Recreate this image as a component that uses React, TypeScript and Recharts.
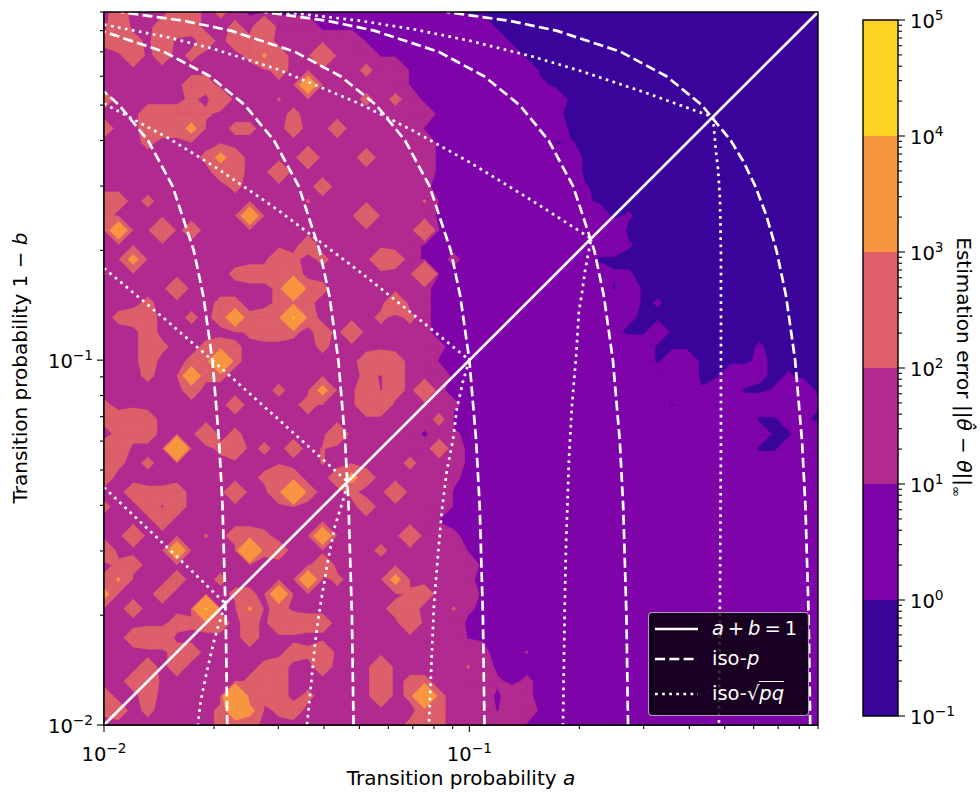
import React from 'react';
import { ComposedChart, BarChart, Bar, Line, Scatter, XAxis, YAxis, CartesianGrid, ReferenceArea, Legend, Label } from 'recharts';

const FONT = '"DejaVu Sans", sans-serif';

// one character per grid node, top row first, left to right (50 x 50, log spaced)
const errorRows = [
    '-b---bb-a- vvvvvvvvvv vvvvv..... .......... ..........',
    '-c--bcb--a -c---vvvvv vvvvvvv... .......... ..........',
    'acb-c--b-b ab------wv vvvvvvvv.. .......... ..........',
    '--c-b-a--- aeb--d---w wvvvvvvvv. .......... ..........',
    '---------- --b-----a- -wvvvvvvvv .......... ..........',
    '------bb-- ----B----- -wvvvvvvvv u......... ..........',
    'b-----a-c- --t-----a- a-vvvvvvvv vv........ ..........',
    '---bbbba-- ---a------ ---vvvvvvv vu........ ..........',
    'b--bbbA--a a--b--b--- --wvvvvvvv vv........ ..........',
    '---a------ ---------- ---vvvvvvv vok....... ..........',
    '-------aAb ----c---b- ---vvvvvvv vvv....... ..........',
    '--------bb --c------- ---vvvvvvv vvv....... ..........',
    '---------a -----b---- --mvvvvvvv vvvk...... ..........',
    'bb-a------ ----t----- --tvvvvvvv vvvu...... ..........',
    'b--------- B-------d- ---vvvvvvv vvvvv.k... ..........',
    '-B--d-b--- ---------- --cvvvvvvv vvvvvv.... ..........',
    '---------- ----b----- --vvvvvvvv vvvvvvk... ..........',
    '--A------- --ca-a---c b-vvmvvvvv vvvv...... ..........',
    't--------a bbcb------ --dvvvvvvv vvvvvkk... ..........',
    '-----c---- --aCba---- --mvvvvvvv vvvvvov... ..........',
    '---a----aa --aba----- c-mvvvvvvv vvvvvvv.k. ..........',
    '-abb--a-bB abbYb----a -amvvvvvvv vvvvvvu... ..........',
    '---b------ abba-b-c-- --mvvvvvvv vvvvvu..v. ..........',
    '---ba--aba -----a---- ---mvvvvvv vvvvvvvv.. .....k....',
    '---b--abCa --------bc b--wvvvvvv vvvvvvvv.v v....u....',
    '---a--Baa- --------an b---vvvvvv vvvvvvvvvv v..vvu.k..',
    '------b--- --a--A--cn b-cmvvvvvv vvvvvvvvvv vkvv..kvv.',
    'a--------b ----b---cc ----mvvvvv vvvvvvvvvo vvovvvvvvk',
    'abcb------ ---------- ---avvvvvv vvvvvvvvvv vvvvv..vu.',
    '-abb---c-a ------c--- --v-mvvvvv vvvvvvvvvv vvvvvv..vv',
    'bc---C--ac -a-b-t---- ---b-vvvvv vvvvvvvvvv vvvvv..vvo',
    'ca-a------ -----t---- -a---vvvvv vvvvvvvvvv vvvvvvvvvv',
    'b--------- -adb--bAb- ----mvvvvv vvvvvvvvvv vvvvvvvvvv',
    '--baab---c --cCb--a-- c---wvvvvv vvvvvvvvvv vvvvvvvvvv',
    'a--bnb---- --------b- ----wvvvvv vvvvvvvvvv vvvvvvvvvv',
    '----b----- ---------- ---wvvvvvv vvvvvvvvvv vvvvvvvvvv',
    '--c----t-b ba---B---- -c--mvvvvv vvvvvvvvvv vvvvvvvvvv',
    'c----B---- Cab------a -----wvvvv vvvvvvvvvv vvvvvvvvvv',
    '-ab------- -----c---- ------vvvv vvvvvvvvvv vvvvvvvvvv',
    'ae---b--a- ----B-a--- A----mvvvv vvvvvvvvvv vvvvvvvvvv',
    'A---b----a a-B------- -ab---vvvv vvvvvvvvvv vvvvvvvvvv',
    '--b----Y-- e-b------- bb--tmvvvv vvvvvvvvvv vvvvvvvvvv',
    '-----babb- b-ccbb---- -c---vvvvv vvvvvvvvvv vvvvvvvvvv',
    '--bcc----- b--------- -----wwvvv vvvvvvvvvv vvvvvvvvvv',
    '-----bb--- ---bac---- ------mvvl vvvvvvvvvv vvvvvvvvvv',
    '---b-b---- -ab--b---c -----t-vvv vvvvvvvvvv vvvvvvvvvv',
    '--bc------ abb------c -aa---wmvm vvvvvvvvvv vvvvvvvvvv',
    'b--b-----C bbb-a----c -aCa---v-m vvvvvvvvvv vvvvvvvvvv',
    'ab-a----aB A-ab------ --ba---w-- vvvvvvvvvv vvvvvvvvvv',
    '--------ab b--------- -aba-----w vvvvvvvvvv vlvvvvvvvv',
];

// estimation error at a node for each character above
const errorValues: Record<string, number> = {
    '.': 0.5, o: 0.7, k: 1.2, u: 1.5, v: 3, w: 8, l: 11, m: 15, '-': 30, n: 85,
    t: 110, a: 150, b: 220, c: 350, d: 800, e: 1150, A: 1500, B: 2500, C: 6000, Y: 10500,
};

const bandThresholds = [1, 10, 100, 1000, 10000];
const bandColors = ['#3a049a', '#7e03a8', '#b12a90', '#dc5f69', '#f89540', '#fad325'];
const colorbarExponents = [-1, 0, 1, 2, 3, 4, 5];

const diagonal = [[0.01, 0.01], [0.9, 0.9]];

const isoP1 = [[0.02175, 0.01], [0.02153, 0.02], [0.0211, 0.04], [0.02065, 0.06], [0.0198, 0.1], [0.0187, 0.15], [0.0176, 0.2], [0.0154, 0.3], [0.0132, 0.4], [0.011, 0.5], [0.01, 0.545]];
const isoP2 = [[0.0482, 0.01], [0.0477, 0.02], [0.0467, 0.04], [0.0457, 0.06], [0.0438, 0.1], [0.0414, 0.15], [0.0389, 0.2], [0.0341, 0.3], [0.0292, 0.4], [0.0243, 0.5], [0.0195, 0.6], [0.0146, 0.7], [0.01, 0.795]];
const isoP3 = [[0.11, 0.01], [0.1089, 0.02], [0.1067, 0.04], [0.1044, 0.06], [0.1, 0.1], [0.0944, 0.15], [0.0889, 0.2], [0.0778, 0.3], [0.0667, 0.4], [0.0556, 0.5], [0.0444, 0.6], [0.0333, 0.7], [0.0222, 0.8], [0.0167, 0.85], [0.0111, 0.9]];
const isoP4 = [[0.2718, 0.01], [0.2691, 0.02], [0.2636, 0.04], [0.2581, 0.06], [0.2471, 0.1], [0.2334, 0.15], [0.2197, 0.2], [0.1922, 0.3], [0.1648, 0.4], [0.1373, 0.5], [0.1098, 0.6], [0.0824, 0.7], [0.0549, 0.8], [0.0412, 0.85], [0.0275, 0.9]];
const isoP5 = [[0.857, 0.01], [0.8484, 0.02], [0.8311, 0.04], [0.8138, 0.06], [0.7791, 0.1], [0.7358, 0.15], [0.6926, 0.2], [0.6493, 0.25], [0.606, 0.3], [0.5627, 0.35], [0.5194, 0.4], [0.4329, 0.5], [0.3463, 0.6], [0.2597, 0.7], [0.1731, 0.8], [0.1299, 0.85], [0.0866, 0.9]];

const isoPq1 = [[0.01, 0.0448], [0.012, 0.03767], [0.014, 0.03253], [0.017, 0.02702], [0.0215, 0.0215], [0.02077, 0.01928], [0.02038, 0.01821], [0.01987, 0.01656], [0.0195, 0.01526], [0.01914, 0.01406], [0.01866, 0.01247], [0.01831, 0.01127], [0.01808, 0.01]];
const isoPq2 = [[0.01, 0.1787], [0.015, 0.1272], [0.02, 0.099], [0.03, 0.0689], [0.0464, 0.0464], [0.04538, 0.04214], [0.04425, 0.03882], [0.04287, 0.0351], [0.04154, 0.03016], [0.04076, 0.02726], [0.03949, 0.02256], [0.03851, 0.01927], [0.03779, 0.01656], [0.03685, 0.01287], [0.03617, 0.01065], [0.03594, 0.01]];
const isoPq3 = [[0.01, 0.505], [0.015, 0.406], [0.02, 0.34], [0.03, 0.2575], [0.05, 0.175], [0.07, 0.1338], [0.1, 0.1], [0.0961, 0.0876], [0.0925, 0.0739], [0.0902, 0.0604], [0.0868, 0.0499], [0.0841, 0.0388], [0.082, 0.029], [0.08, 0.0213], [0.0785, 0.0137], [0.0775, 0.01]];
const isoPq4 = [[0.01, 0.831], [0.015, 0.767], [0.02, 0.7125], [0.03, 0.626], [0.05, 0.505], [0.07, 0.426], [0.1, 0.349], [0.15, 0.272], [0.2154, 0.2154], [0.2072, 0.1753], [0.2033, 0.1526], [0.1995, 0.1362], [0.1958, 0.1013], [0.1909, 0.0753], [0.1874, 0.0539], [0.1838, 0.0305], [0.1826, 0.0226], [0.1804, 0.01]];
const isoPq5 = [[0.0265, 0.914], [0.03, 0.904], [0.05, 0.852], [0.07, 0.808], [0.1, 0.751], [0.15, 0.678], [0.2, 0.622], [0.3, 0.543], [0.4642, 0.464], [0.473, 0.3738], [0.4792, 0.3357], [0.4851, 0.2779], [0.4882, 0.1964], [0.4882, 0.0876], [0.4882, 0.0574], [0.4851, 0.0219], [0.4821, 0.01]];

const axisTicks = [0.01, 0.02, 0.03, 0.04, 0.05, 0.06, 0.07, 0.08, 0.09, 0.1, 0.2, 0.3, 0.4, 0.5, 0.6, 0.7, 0.8, 0.9];
const majorTicks: Record<number, string> = { 0.01: '\u22122', 0.1: '\u22121' };

const AXIS_MIN = 0.01;
const AXIS_MAX = 0.9;
const PLOT_W = 714;
const PLOT_H = 713;
const TICK_FONT = 19.5;
const SUP_FONT = 13.7;
const LABEL_FONT = 20;

const grid = errorRows.map((row) => row.replace(/ /g, '').split('').map((c) => errorValues[c]));
const rowCount = grid.length;
const colCount = grid[0].length;
const CELL_W = PLOT_W / (colCount - 1);
const CELL_H = PLOT_H / (rowCount - 1);

const gridPos = (t: number) => AXIS_MIN * Math.pow(AXIS_MAX / AXIS_MIN, t);
const toPoints = (pairs: number[][]) => pairs.map(([x, y]) => ({ x, y }));

// cells that have at least one corner inside the band, anchored at their top left node
const cellsForThreshold = (level: number) => {
    const cells: any[] = [];
    for (let j = 0; j < rowCount - 1; j++) {
        for (let i = 0; i < colCount - 1; i++) {
            const corners = [grid[j][i], grid[j][i + 1], grid[j + 1][i + 1], grid[j + 1][i]];
            if (corners.some((v) => v >= level)) {
                cells.push({ x: gridPos(i / (colCount - 1)), y: gridPos(1 - j / (rowCount - 1)), corners });
            }
        }
    }
    return cells;
};

const CELL_OFFSETS = [[0, 0], [CELL_W, 0], [CELL_W, CELL_H], [0, CELL_H]];

// linear crossing of the level on the edge from corner k to corner n
const edgePoint = (cx: number, cy: number, corners: number[], k: number, n: number, level: number) => {
    const f = (level - corners[k]) / (corners[n] - corners[k]);
    const px = cx + CELL_OFFSETS[k][0] + f * (CELL_OFFSETS[n][0] - CELL_OFFSETS[k][0]);
    const py = cy + CELL_OFFSETS[k][1] + f * (CELL_OFFSETS[n][1] - CELL_OFFSETS[k][1]);
    return `${px},${py}`;
};

const ContourCell = ({ cx, cy, payload, level, color }: any) => {
    const corners: number[] = payload.corners;
    const inside = corners.map((v) => v >= level);
    const corner = (k: number) => `${cx + CELL_OFFSETS[k][0]},${cy + CELL_OFFSETS[k][1]}`;

    if (inside.every(Boolean)) {
        return <rect x={cx} y={cy} width={CELL_W + 0.5} height={CELL_H + 0.5} fill={color} shapeRendering="crispEdges" />;
    }

    const isSaddle = inside[0] === inside[2] && inside[1] === inside[3] && inside[0] !== inside[1];
    const center = (corners[0] + corners[1] + corners[2] + corners[3]) / 4;
    const polys: string[][] = [];
    if (isSaddle && center < level) {
        // two separate corners, the middle of the cell stays out of the band
        [0, 1, 2, 3].filter((k) => inside[k]).forEach((k) => {
            const prev = (k + 3) % 4;
            const next = (k + 1) % 4;
            polys.push([corner(k), edgePoint(cx, cy, corners, k, next, level), edgePoint(cx, cy, corners, k, prev, level)]);
        });
    } else {
        const pts: string[] = [];
        for (let k = 0; k < 4; k++) {
            const n = (k + 1) % 4;
            if (inside[k]) pts.push(corner(k));
            if (inside[k] !== inside[n]) pts.push(edgePoint(cx, cy, corners, k, n, level));
        }
        polys.push(pts);
    }
    return (
        <g>
            {polys.map((pts, idx) => (
                <polygon key={idx} points={pts.join(' ')} fill={color} stroke={color} strokeWidth={0.8} strokeLinejoin="round" />
            ))}
        </g>
    );
};

const XTick = ({ x, y, payload }: any) => {
    const exp = majorTicks[payload.value];
    return (
        <g>
            <line x1={x} x2={x} y1={y - 8} y2={y - 8 + (exp ? 7 : 4)} stroke="#000" strokeWidth={1.1} />
            {exp && (
                <text x={x} y={y + 28} textAnchor="middle" fontFamily={FONT} fontSize={TICK_FONT} fill="#000">
                    10<tspan dy={-8} fontSize={SUP_FONT}>{exp}</tspan>
                </text>
            )}
        </g>
    );
};

const YTick = ({ x, y, payload }: any) => {
    const exp = majorTicks[payload.value];
    return (
        <g>
            <line x1={x + 8} x2={x + 8 - (exp ? 7 : 4)} y1={y} y2={y} stroke="#000" strokeWidth={1.1} />
            {exp && (
                <text x={x - 3} y={y + 7.5} textAnchor="end" fontFamily={FONT} fontSize={TICK_FONT} fill="#000">
                    10<tspan dy={-8} fontSize={SUP_FONT}>{exp}</tspan>
                </text>
            )}
        </g>
    );
};

// the colorbar axis runs from 0 to 6, one unit per band, value 0 is 10^-1
const ColorbarTick = ({ x, y, payload }: any) => {
    const major = Number.isInteger(payload.value);
    return (
        <g>
            <line x1={x - 8} x2={x - 8 + (major ? 7 : 4)} y1={y} y2={y} stroke="#000" strokeWidth={1.1} />
            {major && (
                <text x={x + 4} y={y + 7.5} fontFamily={FONT} fontSize={TICK_FONT} fill="#000">
                    10<tspan dy={-8} fontSize={SUP_FONT}>{String(colorbarExponents[payload.value]).replace('-', '\u2212')}</tspan>
                </text>
            )}
        </g>
    );
};

const legendRows = [
    { dash: undefined, label: <span><i>a</i>{'\u2009+\u2009'}<i>b</i>{'\u2009=\u2009'}1</span> },
    { dash: '10 4.3', label: <span>iso-<i>p</i></span> },
    {
        dash: '2.7 4.4',
        label: <span>iso-{'\u221A'}<span style={{ borderTop: '1.2px solid #fff' }}><i>pq</i></span></span>,
    },
];

const LegendBox = () => (
    <div
        style={{
            boxSizing: 'border-box',
            width: 161,
            height: 104,
            background: 'rgba(0,0,0,0.8)',
            border: '1.5px solid rgba(204,204,204,0.8)',
            borderRadius: 4,
            color: '#fff',
            fontFamily: FONT,
            fontSize: TICK_FONT,
            lineHeight: 1,
            position: 'relative',
        }}
    >
        {legendRows.map((row, idx) => (
            <div key={idx} style={{ position: 'absolute', left: 6, top: [6, 36, 71][idx], display: 'flex', alignItems: 'center', height: 20 }}>
                <svg width={44} height={6}>
                    <line x1={0} x2={43} y1={3} y2={3} stroke="#fff" strokeWidth={2.7} strokeDasharray={row.dash} />
                </svg>
                <div style={{ marginLeft: 13, whiteSpace: 'nowrap' }}>{row.label}</div>
            </div>
        ))}
    </div>
);

const MainChart = () => (
    <ComposedChart
        width={980}
        height={795}
        margin={{ top: 12, right: 162, bottom: 30, left: 44 }}
        style={{ position: 'absolute', left: 0, top: 0 }}
    >
        <CartesianGrid fill={bandColors[0]} stroke="none" horizontal={false} vertical={false} />
        <XAxis
            dataKey="x"
            type="number"
            scale="log"
            domain={[AXIS_MIN, AXIS_MAX]}
            allowDataOverflow
            ticks={axisTicks}
            interval={0}
            height={40}
            tick={<XTick />}
            tickLine={false}
            axisLine={{ stroke: '#000', strokeWidth: 1.4 }}
        >
            <Label
                content={() => (
                    <text x={461} y={785} textAnchor="middle" fontFamily={FONT} fontSize={LABEL_FONT} fill="#000">
                        Transition probability <tspan fontStyle="italic">a</tspan>
                    </text>
                )}
            />
        </XAxis>
        <YAxis
            dataKey="y"
            type="number"
            scale="log"
            domain={[AXIS_MIN, AXIS_MAX]}
            allowDataOverflow
            ticks={axisTicks}
            interval={0}
            width={60}
            tick={<YTick />}
            tickLine={false}
            axisLine={{ stroke: '#000', strokeWidth: 1.4 }}
        >
            <Label
                content={() => (
                    <text x={27} y={368} textAnchor="middle" transform="rotate(-90 27 368)" fontFamily={FONT} fontSize={LABEL_FONT} fill="#000">
                        Transition probability 1 {'\u2212'} <tspan fontStyle="italic">b</tspan>
                    </text>
                )}
            />
        </YAxis>
        {bandThresholds.map((level, idx) => (
            <Scatter
                key={level}
                data={cellsForThreshold(level)}
                dataKey="y"
                isAnimationActive={false}
                shape={(props: any) => <ContourCell {...props} level={level} color={bandColors[idx + 1]} />}
            />
        ))}
        <Line data={toPoints(diagonal)} dataKey="y" stroke="#fff" strokeWidth={2.7} dot={false} isAnimationActive={false} zIndex={700} />
        {[isoP1, isoP2, isoP3, isoP4, isoP5].map((pairs, idx) => (
            <Line key={idx} data={toPoints(pairs)} dataKey="y" stroke="#fff" strokeWidth={2.7} strokeDasharray="10 4.3" dot={false} isAnimationActive={false} zIndex={700} />
        ))}
        {[isoPq1, isoPq2, isoPq3, isoPq4, isoPq5].map((pairs, idx) => (
            <Line key={idx} data={toPoints(pairs)} dataKey="y" stroke="#fff" strokeWidth={2.7} strokeDasharray="2.7 4.4" dot={false} isAnimationActive={false} zIndex={700} />
        ))}
        <ReferenceArea x1={AXIS_MIN} x2={AXIS_MAX} y1={AXIS_MIN} y2={AXIS_MAX} fill="none" stroke="#000" strokeWidth={1.4} ifOverflow="visible" zIndex={800} />
        <Legend
            layout="horizontal"
            align="center"
            verticalAlign="middle"
            content={<LegendBox />}
            wrapperStyle={{ position: 'absolute', left: 648, top: 612, width: 161, height: 104 }}
        />
    </ComposedChart>
);

const colorbarRow = [{ name: 'cb', ...Object.fromEntries(bandColors.map((_, idx) => [`band${idx}`, 1])) }];
const colorbarTicks = colorbarExponents.flatMap((_, idx) =>
    idx === colorbarExponents.length - 1 ? [idx] : [idx, ...[2, 3, 4, 5, 6, 7, 8, 9].map((m) => idx + Math.log10(m))]
);

const Colorbar = () => (
    <BarChart
        width={130}
        height={795}
        data={colorbarRow}
        barCategoryGap={0}
        margin={{ top: 20, right: 22, bottom: 79, left: 13 }}
        style={{ position: 'absolute', left: 850, top: 0 }}
    >
        <XAxis hide dataKey="name" />
        <YAxis
            orientation="right"
            type="number"
            domain={[0, 6]}
            ticks={colorbarTicks}
            interval={0}
            width={60}
            tick={<ColorbarTick />}
            tickLine={false}
            axisLine={false}
        >
            <Label
                content={() => (
                    <text x={107} y={367} textAnchor="middle" transform="rotate(90 107 367)" fontFamily={FONT} fontSize={LABEL_FONT} fill="#000">
                        Estimation error ||<tspan fontStyle="italic">{'\u03B8\u0302'}</tspan> {'\u2212'} <tspan fontStyle="italic">{'\u03B8'}</tspan>||<tspan dy={5} fontSize={13}>{'\u221E'}</tspan>
                    </text>
                )}
            />
        </YAxis>
        {bandColors.map((color, idx) => (
            <Bar key={color} dataKey={`band${idx}`} stackId="cb" fill={color} isAnimationActive={false} />
        ))}
        <ReferenceArea y1={0} y2={6} fill="none" stroke="#000" strokeWidth={1.4} ifOverflow="visible" zIndex={800} />
    </BarChart>
);

export default function App() {
    return (
        <div style={{ position: 'absolute', left: 0, top: 0, width: 980, height: 795, background: '#fff' }}>
            <MainChart />
            <Colorbar />
        </div>
    );
}
